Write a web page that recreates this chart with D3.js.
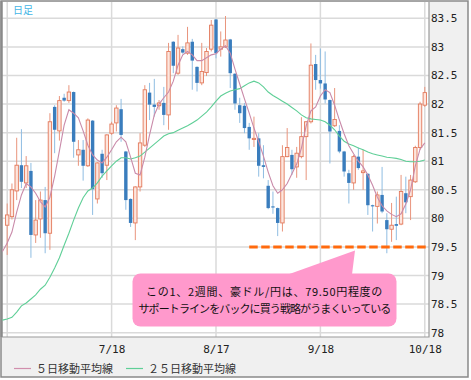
<!DOCTYPE html>
<html><head><meta charset="utf-8">
<script src="https://cdn.jsdelivr.net/npm/d3@7"></script>
<style>body{margin:0;background:#fff}svg{display:block}</style>
</head><body>
<script>
// ---- data ----
const open = [79.88,80.03,80.48,80.93,80.62,80.83,79.71,79.99,80.32,79.74,
81.95,81.53,82.11,82.06,82.21,81.11,81.20,80.92,81.71,80.34,
81.13,80.93,81.49,81.67,81.91,81.17,80.34,79.92,80.55,81.28,
82.20,81.99,81.97,82.02,81.81,83.09,82.54,82.96,82.89,83.09,
82.65,82.37,82.55,82.96,83.48,82.96,83.00,83.13,82.53,81.98,
81.97,81.60,81.38,81.40,80.93,80.57,80.21,80.18,79.92,81.08,
81.11,80.90,81.08,81.43,81.69,82.70,82.42,82.36,82.07,81.62,
81.53,81.17,80.79,80.62,81.08,80.80,80.78,80.23,80.21,80.41,
79.97,79.81,79.90,79.90,80.44,80.38,80.64,81.24,81.98];
const high = [80.26,80.61,81.41,81.56,81.09,80.97,80.32,80.47,80.55,81.84,
81.98,82.14,82.18,82.33,82.22,81.37,81.37,81.75,81.72,80.98,
81.20,81.47,81.69,81.98,82.09,81.18,80.35,80.56,81.49,82.33,
82.37,82.44,82.07,82.30,83.07,83.10,83.21,83.01,83.35,83.14,
82.66,83.07,82.98,83.47,83.49,83.27,83.54,83.14,82.54,82.11,
82.02,81.67,81.78,81.49,81.28,80.67,80.47,80.19,81.28,81.58,
81.20,81.25,81.77,81.70,83.06,82.86,82.97,82.92,82.08,82.28,
81.63,81.18,80.85,81.11,81.24,81.20,80.79,80.24,80.47,80.90,
80.09,80.27,80.38,80.76,80.73,80.76,81.27,82.04,82.30];
const low = [79.36,79.98,80.32,80.53,80.53,79.31,79.57,79.66,79.39,79.45,
81.14,81.36,82.04,82.02,81.06,80.92,80.66,80.90,80.06,80.26,
80.71,80.67,81.46,81.52,81.34,80.15,79.85,79.62,80.47,81.25,
81.72,81.78,81.90,81.63,81.55,82.54,82.51,82.88,82.86,82.25,
82.22,82.33,82.49,82.92,82.80,82.83,82.98,82.28,81.90,81.67,
81.49,81.20,81.25,80.73,80.70,80.16,80.08,79.69,79.77,81.07,
80.76,80.71,81.05,80.67,81.66,82.25,82.27,82.01,80.96,81.60,
81.14,80.73,80.26,80.50,80.85,80.50,80.06,79.77,79.91,80.09,
79.39,79.59,79.62,79.88,80.09,79.97,80.62,81.20,81.95];
const close = [80.06,80.50,80.93,80.64,80.92,79.71,79.97,80.32,79.74,81.69,
81.55,82.06,82.06,82.21,81.34,81.20,80.92,81.72,80.51,80.97,
80.79,81.46,81.65,81.93,81.46,80.32,79.92,80.55,81.32,82.25,
81.99,81.95,82.02,81.81,82.92,82.67,82.98,82.90,83.07,82.76,
82.37,82.57,82.92,83.38,82.89,83.00,83.12,82.54,82.01,81.84,
81.58,81.40,81.40,80.92,80.90,80.18,80.19,79.92,81.08,81.24,
80.86,81.14,81.43,81.69,82.68,82.42,82.36,82.08,81.52,81.73,
81.17,80.82,80.62,81.08,80.88,80.83,80.23,80.21,80.41,80.12,
79.81,79.88,79.87,80.47,80.28,80.67,81.24,82.00,82.20];
// moving averages, first value belongs to the day before the first visible candle
const ma5 = [79.42,79.57,79.76,80.11,80.41,80.61,80.55,80.44,80.29,80.20,
80.37,80.74,81.18,81.63,81.90,81.84,81.76,81.53,81.28,81.11,
81.02,80.97,81.07,81.20,81.34,81.42,81.34,81.07,80.79,80.76,
81.07,81.46,81.81,82.00,82.11,82.21,82.40,82.68,82.86,82.92,
82.86,82.76,82.76,82.81,82.86,82.88,82.96,83.02,82.89,82.61,
82.35,82.09,81.84,81.58,81.34,81.09,80.81,80.57,80.44,80.50,
80.61,80.78,80.95,81.23,81.62,81.88,81.95,82.14,82.25,82.20,
81.98,81.72,81.48,81.27,81.13,81.00,80.90,80.76,80.58,80.37,
80.22,80.13,80.07,80.03,80.08,80.25,80.50,80.92,81.21,81.32];
const ma25 = [78.22,78.24,78.27,78.36,78.47,78.52,78.59,78.66,78.76,78.83,
78.97,79.13,79.31,79.53,79.74,79.97,80.18,80.36,80.48,80.53,
80.62,80.74,80.83,80.92,81.00,81.06,81.06,81.04,81.06,81.09,
81.16,81.23,81.30,81.37,81.44,81.48,81.50,81.54,81.58,81.62,
81.67,81.72,81.79,81.86,81.95,82.05,82.14,82.19,82.23,82.25,
82.27,82.32,82.37,82.40,82.37,82.30,82.21,82.15,82.10,82.05,
82.00,81.94,81.88,81.81,81.76,81.74,81.73,81.72,81.69,81.63,
81.55,81.44,81.35,81.30,81.27,81.23,81.20,81.16,81.13,81.11,
81.09,81.07,81.06,81.05,81.03,81.00,80.99,80.99,81.00,81.02];
const gridIdx = [0, 22, 44, 66, 88];
const dateLabels = ["", "7/18", "8/17", "9/18", "10/18"];
const yTicks = [78, 78.5, 79, 79.5, 80, 80.5, 81, 81.5, 82, 82.5, 83, 83.5];
const supportLevel = 79.5;
const supportFromIdx = 51;
const legendNames = ["５日移動平均線", "２５日移動平均線"];
const titleText = "日足";
const calloutLines = ["この1、2週間、豪ドル/円は、79.50円程度の", "サポートラインをバックに買う戦略がうまくいっている"];

// ---- layout ----
const W = 471, H = 380;
const P = {l: 2, t: 2, r: 429, b: 337};
const svg = d3.select("body").append("svg").attr("width", W).attr("height", H);

const x = d3.scaleLinear().domain([0, 88]).range([7.2, 424.8]);
const y = d3.scaleLinear().domain([78, 83.5]).range([332.7, 18.3]);

// frame
svg.append("rect").attr("x", 1).attr("y", 1).attr("width", 467).attr("height", 376)
  .attr("fill", "#f0f0f0").attr("stroke", "#8a8a8a").attr("stroke-width", 1.5);
svg.append("rect").attr("x", P.l).attr("y", P.t).attr("width", P.r - P.l).attr("height", P.b - P.t)
  .attr("fill", "#fff");

svg.append("defs").append("clipPath").attr("id", "clip")
  .append("rect").attr("x", P.l).attr("y", P.t).attr("width", P.r - P.l).attr("height", P.b - P.t);

// grid
const grid = svg.append("g").attr("stroke", "#dadada").attr("stroke-width", 1.5);
grid.selectAll("line.h").data(yTicks).join("line").attr("class", "h")
  .attr("x1", P.l).attr("x2", P.r).attr("y1", d => y(d)).attr("y2", d => y(d));
grid.selectAll("line.v").data(gridIdx).join("line").attr("class", "v")
  .attr("x1", d => x(d)).attr("x2", d => x(d)).attr("y1", P.t).attr("y2", P.b);

// plot border
svg.append("path").attr("d", `M${P.l},${P.t}V${P.b}H${P.r}V${P.t}`)
  .attr("fill", "none").attr("stroke", "#9a9a9a").attr("stroke-width", 1.2);
svg.append("line").attr("x1", 1.5).attr("x2", 1.5).attr("y1", 1).attr("y2", P.b)
  .attr("stroke", "#8a8a8a").attr("stroke-width", 2);

// y axis labels
const yAxis = d3.axisRight(y).tickValues(yTicks).tickSize(0).tickPadding(2)
  .tickFormat(d => String(d));
const ya = svg.append("g").attr("transform", `translate(${P.r},0)`).call(yAxis);
ya.select(".domain").remove();
ya.selectAll("text").attr("font-family", "DejaVu Sans Mono").attr("font-size", 11).attr("fill", "#222");

// x axis labels
const xAxis = d3.axisBottom(x).tickValues(gridIdx).tickSize(0).tickPadding(8)
  .tickFormat((d, i) => dateLabels[i]);
const xa = svg.append("g").attr("transform", `translate(0,${P.b})`).call(xAxis);
xa.select(".domain").remove();
xa.selectAll("text").attr("font-family", "DejaVu Sans Mono").attr("font-size", 11).attr("fill", "#222");

const plot = svg.append("g").attr("clip-path", "url(#clip)");

// candles
const idx = d3.range(open.length);
const up = i => close[i] >= open[i];
plot.append("g").selectAll("line").data(idx).join("line")
  .attr("x1", i => x(i)).attr("x2", i => x(i))
  .attr("y1", i => y(high[i])).attr("y2", i => y(low[i]))
  .attr("stroke", i => up(i) ? "#e9957d" : "#8fbde2").attr("stroke-width", 1);
const bw = 3.4;
plot.append("g").selectAll("rect").data(idx).join("rect")
  .attr("x", i => x(i) - bw / 2)
  .attr("y", i => y(Math.max(open[i], close[i])))
  .attr("width", bw)
  .attr("height", i => Math.max(1, Math.abs(y(open[i]) - y(close[i]))))
  .attr("fill", i => up(i) ? "#fde6de" : "#3a7dbd")
  .attr("stroke", i => up(i) ? "#e3795b" : "#3a7dbd")
  .attr("stroke-width", i => up(i) ? 0.9 : 0);

// moving averages
const maLine = d3.line().x((d, i) => x(i - 1)).y(d => y(d));
plot.append("path").datum(ma25).attr("d", maLine).attr("fill", "none")
  .attr("stroke", "#5fcf97").attr("stroke-width", 1.1);
plot.append("path").datum(ma5).attr("d", maLine).attr("fill", "none")
  .attr("stroke", "#c98aa9").attr("stroke-width", 1.1);

// support line
svg.append("line").attr("x1", x(supportFromIdx)).attr("x2", P.r)
  .attr("y1", y(supportLevel)).attr("y2", y(supportLevel))
  .attr("stroke", "#ff6a0d").attr("stroke-width", 3).attr("stroke-dasharray", "8.5,3.5");

// callout
const cb = {x: 132.5, y: 273.5, w: 264, h: 53};
const apexX = 355, apexY = y(supportLevel) + 3.5;
const callout = svg.append("g");
callout.append("path")
  .attr("d", `M288,${cb.y + 1}L${apexX},${apexY}L352,${cb.y + 1}Z`)
  .attr("fill", "#ff99cc");
callout.append("rect").attr("x", cb.x).attr("y", cb.y).attr("width", cb.w).attr("height", cb.h)
  .attr("rx", 8).attr("fill", "#ff99cc");
const targetW = [237, 252];
const cx = cb.x + cb.w / 2;
callout.selectAll("text").data(calloutLines).join("text")
  .attr("x", cx)
  .attr("y", (d, i) => 295.5 + i * 17)
  .attr("font-family", "'Noto Sans CJK JP'").attr("font-size", 11).attr("fill", "#111")
  .text(d => d)
  .each(function(d, i) {
    const nat = this.getComputedTextLength();
    const n = [...d].length;
    const ls = (targetW[i] - nat) / n;
    d3.select(this).attr("letter-spacing", ls.toFixed(2) + "px")
      .attr("x", cx - targetW[i] / 2).attr("text-anchor", "start");
  });

// title
svg.append("text").attr("x", 13).attr("y", 13.5).attr("font-family", "'Noto Sans CJK JP'")
  .attr("font-size", 10).attr("fill", "#45b5e6").text(titleText);

// legend
const legColors = ["#d18fad", "#5fcf97"];
const legX = [14, 126];
const leg = svg.append("g");
legendNames.forEach((n, i) => {
  leg.append("line").attr("x1", legX[i]).attr("x2", legX[i] + 17).attr("y1", 368.5).attr("y2", 368.5)
    .attr("stroke", legColors[i]).attr("stroke-width", 1.2);
  leg.append("text").attr("x", legX[i] + 22).attr("y", 372.5)
    .attr("font-family", "'Noto Sans CJK JP'").attr("font-size", 11).attr("fill", "#333")
    .text(n);
});
</script>
</body></html>
